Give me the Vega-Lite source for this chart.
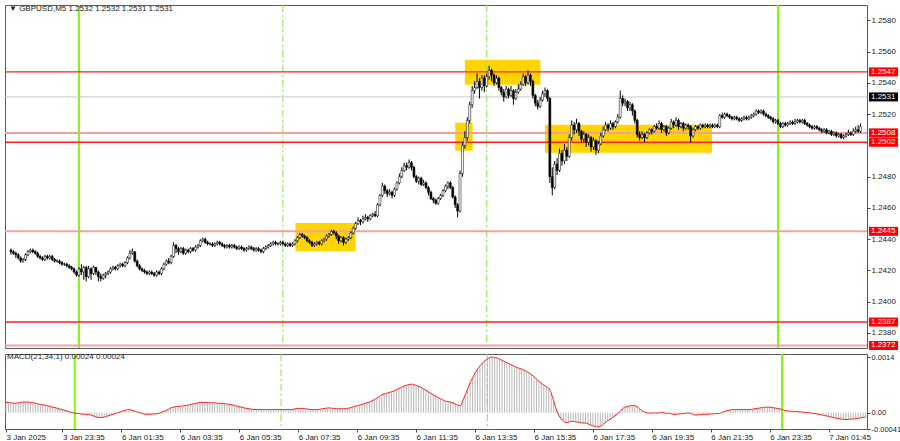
{
"$schema": "https://vega.github.io/schema/vega-lite/v6.json",
"padding": {"left": 3, "top": 3, "right": 0, "bottom": 0},
"background": "white",
"spacing": 1,
"config": {
"font": "Liberation Sans",
"view": {"stroke": "#5a5a5a", "strokeWidth": 1},
"axis": {"labelFont": "Liberation Sans", "labelFontSize": 8, "labelColor": "#222222", "domain": false, "grid": false, "tickColor": "#444444", "tickSize": 3, "labelPadding": 1, "title": null, "labelFlush": false, "labelOverlap": false, "labelBound": false}
},
"datasets": {
"bars": [
{"i":1,"o":1.2433,"h":1.2434,"l":1.2430,"c":1.2432,"m":0.00026},
{"i":2,"o":1.2432,"h":1.2433,"l":1.2430,"c":1.2431,"m":0.00026},
{"i":3,"o":1.2431,"h":1.2432,"l":1.2428,"c":1.2430,"m":0.00025},
{"i":4,"o":1.2430,"h":1.2431,"l":1.2427,"c":1.2428,"m":0.00024},
{"i":5,"o":1.2428,"h":1.2429,"l":1.2425,"c":1.2426,"m":0.00024},
{"i":6,"o":1.2426,"h":1.2428,"l":1.2425,"c":1.2427,"m":0.00025},
{"i":7,"o":1.2427,"h":1.2431,"l":1.2426,"c":1.2430,"m":0.00026},
{"i":8,"o":1.2430,"h":1.2433,"l":1.2429,"c":1.2432,"m":0.00027},
{"i":9,"o":1.2432,"h":1.2434,"l":1.2431,"c":1.2433,"m":0.00027},
{"i":10,"o":1.2433,"h":1.2434,"l":1.2431,"c":1.2432,"m":0.00027},
{"i":11,"o":1.2432,"h":1.2433,"l":1.2430,"c":1.2431,"m":0.00026},
{"i":12,"o":1.2431,"h":1.2432,"l":1.2428,"c":1.2429,"m":0.00025},
{"i":13,"o":1.2429,"h":1.2430,"l":1.2427,"c":1.2428,"m":0.00024},
{"i":14,"o":1.2428,"h":1.2429,"l":1.2426,"c":1.2427,"m":0.00022},
{"i":15,"o":1.2427,"h":1.2430,"l":1.2426,"c":1.2429,"m":0.00021},
{"i":16,"o":1.2429,"h":1.2430,"l":1.2427,"c":1.2428,"m":0.00020},
{"i":17,"o":1.2428,"h":1.2430,"l":1.2427,"c":1.2429,"m":0.00019},
{"i":18,"o":1.2429,"h":1.2430,"l":1.2426,"c":1.2427,"m":0.00017},
{"i":19,"o":1.2427,"h":1.2428,"l":1.2425,"c":1.2426,"m":0.00016},
{"i":20,"o":1.2426,"h":1.2427,"l":1.2425,"c":1.2426,"m":0.00014},
{"i":21,"o":1.2426,"h":1.2427,"l":1.2424,"c":1.2425,"m":0.00013},
{"i":22,"o":1.2425,"h":1.2426,"l":1.2423,"c":1.2424,"m":0.00011},
{"i":23,"o":1.2424,"h":1.2425,"l":1.2423,"c":1.2424,"m":0.00009},
{"i":24,"o":1.2424,"h":1.2425,"l":1.2422,"c":1.2423,"m":0.00008},
{"i":25,"o":1.2423,"h":1.2424,"l":1.2421,"c":1.2422,"m":0.00006},
{"i":26,"o":1.2422,"h":1.2423,"l":1.2420,"c":1.2421,"m":0.00004},
{"i":27,"o":1.2421,"h":1.2422,"l":1.2418,"c":1.2419,"m":0.00002},
{"i":28,"o":1.2419,"h":1.2420,"l":1.2416,"c":1.2417,"m":0.00000},
{"i":29,"o":1.2417,"h":1.2422,"l":1.2416,"c":1.2421,"m":-0.00001},
{"i":30,"o":1.2421,"h":1.2424,"l":1.2417,"c":1.2419,"m":-0.00002},
{"i":31,"o":1.2419,"h":1.2423,"l":1.2414,"c":1.2422,"m":-0.00002},
{"i":32,"o":1.2422,"h":1.2423,"l":1.2413,"c":1.2416,"m":-0.00004},
{"i":33,"o":1.2416,"h":1.2423,"l":1.2415,"c":1.2421,"m":-0.00004},
{"i":34,"o":1.2421,"h":1.2422,"l":1.2414,"c":1.2418,"m":-0.00005},
{"i":35,"o":1.2418,"h":1.2423,"l":1.2417,"c":1.2422,"m":-0.00005},
{"i":36,"o":1.2422,"h":1.2422,"l":1.2417,"c":1.2419,"m":-0.00007},
{"i":37,"o":1.2419,"h":1.2420,"l":1.2413,"c":1.2416,"m":-0.00009},
{"i":38,"o":1.2416,"h":1.2418,"l":1.2413,"c":1.2415,"m":-0.00011},
{"i":39,"o":1.2415,"h":1.2418,"l":1.2414,"c":1.2417,"m":-0.00012},
{"i":40,"o":1.2417,"h":1.2419,"l":1.2415,"c":1.2418,"m":-0.00012},
{"i":41,"o":1.2418,"h":1.2420,"l":1.2417,"c":1.2419,"m":-0.00011},
{"i":42,"o":1.2419,"h":1.2422,"l":1.2418,"c":1.2421,"m":-0.00009},
{"i":43,"o":1.2421,"h":1.2423,"l":1.2420,"c":1.2422,"m":-0.00007},
{"i":44,"o":1.2422,"h":1.2423,"l":1.2420,"c":1.2421,"m":-0.00005},
{"i":45,"o":1.2421,"h":1.2424,"l":1.2420,"c":1.2423,"m":-0.00003},
{"i":46,"o":1.2423,"h":1.2425,"l":1.2422,"c":1.2424,"m":-0.00001},
{"i":47,"o":1.2424,"h":1.2425,"l":1.2422,"c":1.2423,"m":0.00001},
{"i":48,"o":1.2423,"h":1.2426,"l":1.2422,"c":1.2425,"m":0.00003},
{"i":49,"o":1.2425,"h":1.2429,"l":1.2424,"c":1.2428,"m":0.00005},
{"i":50,"o":1.2428,"h":1.2433,"l":1.2427,"c":1.2431,"m":0.00007},
{"i":51,"o":1.2431,"h":1.2434,"l":1.2430,"c":1.2432,"m":0.00008},
{"i":52,"o":1.2432,"h":1.2432,"l":1.2425,"c":1.2426,"m":0.00007},
{"i":53,"o":1.2426,"h":1.2427,"l":1.2422,"c":1.2423,"m":0.00005},
{"i":54,"o":1.2423,"h":1.2424,"l":1.2420,"c":1.2421,"m":0.00003},
{"i":55,"o":1.2421,"h":1.2422,"l":1.2419,"c":1.2420,"m":0.00001},
{"i":56,"o":1.2420,"h":1.2421,"l":1.2418,"c":1.2419,"m":-0.00001},
{"i":57,"o":1.2419,"h":1.2420,"l":1.2417,"c":1.2418,"m":-0.00003},
{"i":58,"o":1.2418,"h":1.2420,"l":1.2417,"c":1.2419,"m":-0.00004},
{"i":59,"o":1.2419,"h":1.2420,"l":1.2417,"c":1.2418,"m":-0.00004},
{"i":60,"o":1.2418,"h":1.2419,"l":1.2416,"c":1.2417,"m":-0.00004},
{"i":61,"o":1.2417,"h":1.2420,"l":1.2416,"c":1.2419,"m":-0.00003},
{"i":62,"o":1.2419,"h":1.2420,"l":1.2417,"c":1.2418,"m":-0.00003},
{"i":63,"o":1.2418,"h":1.2422,"l":1.2417,"c":1.2421,"m":-0.00002},
{"i":64,"o":1.2421,"h":1.2425,"l":1.2420,"c":1.2424,"m":0.00000},
{"i":65,"o":1.2424,"h":1.2427,"l":1.2423,"c":1.2426,"m":0.00003},
{"i":66,"o":1.2426,"h":1.2428,"l":1.2424,"c":1.2425,"m":0.00005},
{"i":67,"o":1.2425,"h":1.2430,"l":1.2424,"c":1.2429,"m":0.00008},
{"i":68,"o":1.2429,"h":1.2438,"l":1.2428,"c":1.2436,"m":0.00012},
{"i":69,"o":1.2436,"h":1.2437,"l":1.2431,"c":1.2434,"m":0.00014},
{"i":70,"o":1.2434,"h":1.2435,"l":1.2430,"c":1.2432,"m":0.00015},
{"i":71,"o":1.2432,"h":1.2435,"l":1.2431,"c":1.2434,"m":0.00016},
{"i":72,"o":1.2434,"h":1.2435,"l":1.2430,"c":1.2431,"m":0.00016},
{"i":73,"o":1.2431,"h":1.2434,"l":1.2430,"c":1.2433,"m":0.00017},
{"i":74,"o":1.2433,"h":1.2434,"l":1.2431,"c":1.2432,"m":0.00018},
{"i":75,"o":1.2432,"h":1.2435,"l":1.2431,"c":1.2434,"m":0.00019},
{"i":76,"o":1.2434,"h":1.2435,"l":1.2432,"c":1.2433,"m":0.00020},
{"i":77,"o":1.2433,"h":1.2436,"l":1.2432,"c":1.2435,"m":0.00022},
{"i":78,"o":1.2435,"h":1.2437,"l":1.2434,"c":1.2436,"m":0.00023},
{"i":79,"o":1.2436,"h":1.2440,"l":1.2435,"c":1.2439,"m":0.00025},
{"i":80,"o":1.2439,"h":1.2441,"l":1.2438,"c":1.2440,"m":0.00026},
{"i":81,"o":1.2440,"h":1.2441,"l":1.2437,"c":1.2438,"m":0.00026},
{"i":82,"o":1.2438,"h":1.2439,"l":1.2436,"c":1.2437,"m":0.00026},
{"i":83,"o":1.2437,"h":1.2438,"l":1.2436,"c":1.2437,"m":0.00026},
{"i":84,"o":1.2437,"h":1.2438,"l":1.2435,"c":1.2436,"m":0.00025},
{"i":85,"o":1.2436,"h":1.2438,"l":1.2435,"c":1.2437,"m":0.00025},
{"i":86,"o":1.2437,"h":1.2439,"l":1.2436,"c":1.2438,"m":0.00025},
{"i":87,"o":1.2438,"h":1.2439,"l":1.2436,"c":1.2437,"m":0.00024},
{"i":88,"o":1.2437,"h":1.2438,"l":1.2435,"c":1.2436,"m":0.00024},
{"i":89,"o":1.2436,"h":1.2437,"l":1.2434,"c":1.2435,"m":0.00023},
{"i":90,"o":1.2435,"h":1.2437,"l":1.2434,"c":1.2436,"m":0.00023},
{"i":91,"o":1.2436,"h":1.2437,"l":1.2434,"c":1.2435,"m":0.00022},
{"i":92,"o":1.2435,"h":1.2437,"l":1.2434,"c":1.2436,"m":0.00021},
{"i":93,"o":1.2436,"h":1.2437,"l":1.2434,"c":1.2435,"m":0.00020},
{"i":94,"o":1.2435,"h":1.2436,"l":1.2433,"c":1.2434,"m":0.00018},
{"i":95,"o":1.2434,"h":1.2436,"l":1.2433,"c":1.2435,"m":0.00017},
{"i":96,"o":1.2435,"h":1.2436,"l":1.2433,"c":1.2434,"m":0.00015},
{"i":97,"o":1.2434,"h":1.2435,"l":1.2432,"c":1.2433,"m":0.00014},
{"i":98,"o":1.2433,"h":1.2435,"l":1.2432,"c":1.2434,"m":0.00012},
{"i":99,"o":1.2434,"h":1.2436,"l":1.2433,"c":1.2435,"m":0.00011},
{"i":100,"o":1.2435,"h":1.2436,"l":1.2433,"c":1.2434,"m":0.00010},
{"i":101,"o":1.2434,"h":1.2435,"l":1.2432,"c":1.2433,"m":0.00009},
{"i":102,"o":1.2433,"h":1.2435,"l":1.2432,"c":1.2434,"m":0.00008},
{"i":103,"o":1.2434,"h":1.2435,"l":1.2432,"c":1.2433,"m":0.00008},
{"i":104,"o":1.2433,"h":1.2434,"l":1.2431,"c":1.2432,"m":0.00008},
{"i":105,"o":1.2432,"h":1.2435,"l":1.2431,"c":1.2434,"m":0.00008},
{"i":106,"o":1.2434,"h":1.2436,"l":1.2433,"c":1.2435,"m":0.00008},
{"i":107,"o":1.2435,"h":1.2437,"l":1.2434,"c":1.2436,"m":0.00008},
{"i":108,"o":1.2436,"h":1.2438,"l":1.2435,"c":1.2437,"m":0.00008},
{"i":109,"o":1.2437,"h":1.2439,"l":1.2436,"c":1.2438,"m":0.00008},
{"i":110,"o":1.2438,"h":1.2439,"l":1.2436,"c":1.2437,"m":0.00008},
{"i":111,"o":1.2437,"h":1.2438,"l":1.2436,"c":1.2437,"m":0.00008},
{"i":112,"o":1.2437,"h":1.2439,"l":1.2436,"c":1.2438,"m":0.00008},
{"i":113,"o":1.2438,"h":1.2439,"l":1.2436,"c":1.2437,"m":0.00008},
{"i":114,"o":1.2437,"h":1.2438,"l":1.2435,"c":1.2436,"m":0.00008},
{"i":115,"o":1.2436,"h":1.2438,"l":1.2435,"c":1.2437,"m":0.00008},
{"i":116,"o":1.2437,"h":1.2438,"l":1.2435,"c":1.2436,"m":0.00008},
{"i":117,"o":1.2436,"h":1.2438,"l":1.2435,"c":1.2437,"m":0.00008},
{"i":118,"o":1.2437,"h":1.2440,"l":1.2436,"c":1.2439,"m":0.00009},
{"i":119,"o":1.2439,"h":1.2442,"l":1.2438,"c":1.2441,"m":0.00010},
{"i":120,"o":1.2441,"h":1.2444,"l":1.2440,"c":1.2443,"m":0.00011},
{"i":121,"o":1.2443,"h":1.2444,"l":1.2441,"c":1.2442,"m":0.00011},
{"i":122,"o":1.2442,"h":1.2443,"l":1.2440,"c":1.2441,"m":0.00011},
{"i":123,"o":1.2441,"h":1.2442,"l":1.2438,"c":1.2439,"m":0.00010},
{"i":124,"o":1.2439,"h":1.2440,"l":1.2437,"c":1.2438,"m":0.00009},
{"i":125,"o":1.2438,"h":1.2439,"l":1.2435,"c":1.2436,"m":0.00008},
{"i":126,"o":1.2436,"h":1.2438,"l":1.2435,"c":1.2437,"m":0.00008},
{"i":127,"o":1.2437,"h":1.2439,"l":1.2436,"c":1.2438,"m":0.00008},
{"i":128,"o":1.2438,"h":1.2439,"l":1.2436,"c":1.2437,"m":0.00008},
{"i":129,"o":1.2437,"h":1.2440,"l":1.2436,"c":1.2439,"m":0.00009},
{"i":130,"o":1.2439,"h":1.2441,"l":1.2438,"c":1.2440,"m":0.00010},
{"i":131,"o":1.2440,"h":1.2443,"l":1.2439,"c":1.2442,"m":0.00011},
{"i":132,"o":1.2442,"h":1.2444,"l":1.2441,"c":1.2443,"m":0.00012},
{"i":133,"o":1.2443,"h":1.2446,"l":1.2442,"c":1.2445,"m":0.00012},
{"i":134,"o":1.2445,"h":1.2446,"l":1.2443,"c":1.2444,"m":0.00011},
{"i":135,"o":1.2444,"h":1.2445,"l":1.2440,"c":1.2442,"m":0.00011},
{"i":136,"o":1.2442,"h":1.2443,"l":1.2437,"c":1.2439,"m":0.00010},
{"i":137,"o":1.2439,"h":1.2442,"l":1.2438,"c":1.2441,"m":0.00010},
{"i":138,"o":1.2441,"h":1.2442,"l":1.2436,"c":1.2438,"m":0.00010},
{"i":139,"o":1.2438,"h":1.2441,"l":1.2437,"c":1.2440,"m":0.00010},
{"i":140,"o":1.2440,"h":1.2442,"l":1.2439,"c":1.2441,"m":0.00011},
{"i":141,"o":1.2441,"h":1.2445,"l":1.2440,"c":1.2444,"m":0.00012},
{"i":142,"o":1.2444,"h":1.2448,"l":1.2443,"c":1.2447,"m":0.00014},
{"i":143,"o":1.2447,"h":1.2451,"l":1.2446,"c":1.2450,"m":0.00016},
{"i":144,"o":1.2450,"h":1.2454,"l":1.2449,"c":1.2452,"m":0.00018},
{"i":145,"o":1.2452,"h":1.2453,"l":1.2449,"c":1.2451,"m":0.00019},
{"i":146,"o":1.2451,"h":1.2455,"l":1.2450,"c":1.2453,"m":0.00021},
{"i":147,"o":1.2453,"h":1.2456,"l":1.2452,"c":1.2454,"m":0.00023},
{"i":148,"o":1.2454,"h":1.2455,"l":1.2451,"c":1.2453,"m":0.00025},
{"i":149,"o":1.2453,"h":1.2456,"l":1.2452,"c":1.2455,"m":0.00027},
{"i":150,"o":1.2455,"h":1.2457,"l":1.2454,"c":1.2456,"m":0.00030},
{"i":151,"o":1.2456,"h":1.2458,"l":1.2454,"c":1.2455,"m":0.00033},
{"i":152,"o":1.2455,"h":1.2463,"l":1.2454,"c":1.2462,"m":0.00037},
{"i":153,"o":1.2462,"h":1.2469,"l":1.2461,"c":1.2468,"m":0.00041},
{"i":154,"o":1.2468,"h":1.2476,"l":1.2467,"c":1.2474,"m":0.00045},
{"i":155,"o":1.2474,"h":1.2475,"l":1.2469,"c":1.2471,"m":0.00047},
{"i":156,"o":1.2471,"h":1.2472,"l":1.2467,"c":1.2469,"m":0.00049},
{"i":157,"o":1.2469,"h":1.2472,"l":1.2468,"c":1.2470,"m":0.00051},
{"i":158,"o":1.2470,"h":1.2471,"l":1.2466,"c":1.2468,"m":0.00053},
{"i":159,"o":1.2468,"h":1.2473,"l":1.2467,"c":1.2472,"m":0.00055},
{"i":160,"o":1.2472,"h":1.2477,"l":1.2471,"c":1.2476,"m":0.00058},
{"i":161,"o":1.2476,"h":1.2482,"l":1.2475,"c":1.2480,"m":0.00061},
{"i":162,"o":1.2480,"h":1.2486,"l":1.2479,"c":1.2484,"m":0.00064},
{"i":163,"o":1.2484,"h":1.2489,"l":1.2483,"c":1.2487,"m":0.00067},
{"i":164,"o":1.2487,"h":1.2489,"l":1.2484,"c":1.2486,"m":0.00069},
{"i":165,"o":1.2486,"h":1.2491,"l":1.2485,"c":1.2489,"m":0.00071},
{"i":166,"o":1.2489,"h":1.2490,"l":1.2484,"c":1.2486,"m":0.00072},
{"i":167,"o":1.2486,"h":1.2487,"l":1.2479,"c":1.2480,"m":0.00071},
{"i":168,"o":1.2480,"h":1.2481,"l":1.2476,"c":1.2477,"m":0.00069},
{"i":169,"o":1.2477,"h":1.2480,"l":1.2475,"c":1.2479,"m":0.00067},
{"i":170,"o":1.2479,"h":1.2480,"l":1.2474,"c":1.2475,"m":0.00064},
{"i":171,"o":1.2475,"h":1.2478,"l":1.2474,"c":1.2476,"m":0.00060},
{"i":172,"o":1.2476,"h":1.2477,"l":1.2472,"c":1.2473,"m":0.00057},
{"i":173,"o":1.2473,"h":1.2474,"l":1.2468,"c":1.2470,"m":0.00053},
{"i":174,"o":1.2470,"h":1.2471,"l":1.2465,"c":1.2466,"m":0.00049},
{"i":175,"o":1.2466,"h":1.2467,"l":1.2463,"c":1.2465,"m":0.00045},
{"i":176,"o":1.2465,"h":1.2466,"l":1.2462,"c":1.2463,"m":0.00042},
{"i":177,"o":1.2463,"h":1.2467,"l":1.2462,"c":1.2466,"m":0.00038},
{"i":178,"o":1.2466,"h":1.2469,"l":1.2465,"c":1.2468,"m":0.00035},
{"i":179,"o":1.2468,"h":1.2472,"l":1.2467,"c":1.2471,"m":0.00032},
{"i":180,"o":1.2471,"h":1.2475,"l":1.2470,"c":1.2474,"m":0.00029},
{"i":181,"o":1.2474,"h":1.2477,"l":1.2472,"c":1.2476,"m":0.00028},
{"i":182,"o":1.2476,"h":1.2477,"l":1.2472,"c":1.2473,"m":0.00027},
{"i":183,"o":1.2473,"h":1.2474,"l":1.2466,"c":1.2467,"m":0.00025},
{"i":184,"o":1.2467,"h":1.2468,"l":1.2460,"c":1.2462,"m":0.00022},
{"i":185,"o":1.2462,"h":1.2463,"l":1.2454,"c":1.2458,"m":0.00019},
{"i":186,"o":1.2458,"h":1.2484,"l":1.2457,"c":1.2482,"m":0.00018},
{"i":187,"o":1.2482,"h":1.2502,"l":1.2480,"c":1.2500,"m":0.00030},
{"i":188,"o":1.2500,"h":1.2509,"l":1.2498,"c":1.2505,"m":0.00045},
{"i":189,"o":1.2505,"h":1.2518,"l":1.2503,"c":1.2516,"m":0.00060},
{"i":190,"o":1.2516,"h":1.2528,"l":1.2514,"c":1.2526,"m":0.00075},
{"i":191,"o":1.2526,"h":1.2538,"l":1.2524,"c":1.2535,"m":0.00088},
{"i":192,"o":1.2535,"h":1.2541,"l":1.2533,"c":1.2537,"m":0.00100},
{"i":193,"o":1.2537,"h":1.2546,"l":1.2536,"c":1.2541,"m":0.00110},
{"i":194,"o":1.2541,"h":1.2543,"l":1.2530,"c":1.2537,"m":0.00118},
{"i":195,"o":1.2537,"h":1.2545,"l":1.2535,"c":1.2543,"m":0.00125},
{"i":196,"o":1.2543,"h":1.2545,"l":1.2534,"c":1.2538,"m":0.00131},
{"i":197,"o":1.2538,"h":1.2546,"l":1.2537,"c":1.2544,"m":0.00135},
{"i":198,"o":1.2544,"h":1.2551,"l":1.2542,"c":1.2548,"m":0.00139},
{"i":199,"o":1.2548,"h":1.2549,"l":1.2541,"c":1.2545,"m":0.00140},
{"i":200,"o":1.2545,"h":1.2546,"l":1.2538,"c":1.2540,"m":0.00139},
{"i":201,"o":1.2540,"h":1.2545,"l":1.2539,"c":1.2543,"m":0.00138},
{"i":202,"o":1.2543,"h":1.2544,"l":1.2535,"c":1.2537,"m":0.00135},
{"i":203,"o":1.2537,"h":1.2538,"l":1.2532,"c":1.2534,"m":0.00132},
{"i":204,"o":1.2534,"h":1.2536,"l":1.2528,"c":1.2531,"m":0.00129},
{"i":205,"o":1.2531,"h":1.2538,"l":1.2530,"c":1.2536,"m":0.00126},
{"i":206,"o":1.2536,"h":1.2537,"l":1.2530,"c":1.2532,"m":0.00123},
{"i":207,"o":1.2532,"h":1.2538,"l":1.2531,"c":1.2535,"m":0.00120},
{"i":208,"o":1.2535,"h":1.2536,"l":1.2526,"c":1.2530,"m":0.00117},
{"i":209,"o":1.2530,"h":1.2536,"l":1.2529,"c":1.2534,"m":0.00114},
{"i":210,"o":1.2534,"h":1.2539,"l":1.2533,"c":1.2536,"m":0.00112},
{"i":211,"o":1.2536,"h":1.2541,"l":1.2535,"c":1.2539,"m":0.00110},
{"i":212,"o":1.2539,"h":1.2546,"l":1.2538,"c":1.2544,"m":0.00107},
{"i":213,"o":1.2544,"h":1.2545,"l":1.2538,"c":1.2540,"m":0.00104},
{"i":214,"o":1.2540,"h":1.2548,"l":1.2539,"c":1.2545,"m":0.00100},
{"i":215,"o":1.2545,"h":1.2546,"l":1.2538,"c":1.2541,"m":0.00096},
{"i":216,"o":1.2541,"h":1.2542,"l":1.2530,"c":1.2532,"m":0.00091},
{"i":217,"o":1.2532,"h":1.2533,"l":1.2525,"c":1.2527,"m":0.00085},
{"i":218,"o":1.2527,"h":1.2529,"l":1.2523,"c":1.2525,"m":0.00079},
{"i":219,"o":1.2525,"h":1.2531,"l":1.2524,"c":1.2529,"m":0.00074},
{"i":220,"o":1.2529,"h":1.2535,"l":1.2528,"c":1.2533,"m":0.00070},
{"i":221,"o":1.2533,"h":1.2537,"l":1.2531,"c":1.2535,"m":0.00066},
{"i":222,"o":1.2535,"h":1.2536,"l":1.2528,"c":1.2530,"m":0.00062},
{"i":223,"o":1.2530,"h":1.2531,"l":1.2476,"c":1.2480,"m":0.00050},
{"i":224,"o":1.2480,"h":1.2486,"l":1.2468,"c":1.2473,"m":0.00030},
{"i":225,"o":1.2473,"h":1.2490,"l":1.2472,"c":1.2488,"m":0.00010},
{"i":226,"o":1.2488,"h":1.2492,"l":1.2481,"c":1.2484,"m":-0.00005},
{"i":227,"o":1.2484,"h":1.2498,"l":1.2483,"c":1.2495,"m":-0.00015},
{"i":228,"o":1.2495,"h":1.2497,"l":1.2487,"c":1.2490,"m":-0.00021},
{"i":229,"o":1.2490,"h":1.2501,"l":1.2488,"c":1.2497,"m":-0.00025},
{"i":230,"o":1.2497,"h":1.2499,"l":1.2490,"c":1.2493,"m":-0.00024},
{"i":231,"o":1.2493,"h":1.2507,"l":1.2492,"c":1.2505,"m":-0.00022},
{"i":232,"o":1.2505,"h":1.2516,"l":1.2503,"c":1.2513,"m":-0.00022},
{"i":233,"o":1.2513,"h":1.2515,"l":1.2507,"c":1.2510,"m":-0.00023},
{"i":234,"o":1.2510,"h":1.2517,"l":1.2508,"c":1.2514,"m":-0.00024},
{"i":235,"o":1.2514,"h":1.2515,"l":1.2506,"c":1.2509,"m":-0.00025},
{"i":236,"o":1.2509,"h":1.2510,"l":1.2502,"c":1.2504,"m":-0.00026},
{"i":237,"o":1.2504,"h":1.2509,"l":1.2502,"c":1.2507,"m":-0.00026},
{"i":238,"o":1.2507,"h":1.2508,"l":1.2499,"c":1.2502,"m":-0.00028},
{"i":239,"o":1.2502,"h":1.2507,"l":1.2500,"c":1.2505,"m":-0.00031},
{"i":240,"o":1.2505,"h":1.2506,"l":1.2496,"c":1.2499,"m":-0.00033},
{"i":241,"o":1.2499,"h":1.2505,"l":1.2497,"c":1.2503,"m":-0.00035},
{"i":242,"o":1.2503,"h":1.2504,"l":1.2494,"c":1.2497,"m":-0.00036},
{"i":243,"o":1.2497,"h":1.2503,"l":1.2495,"c":1.2501,"m":-0.00034},
{"i":244,"o":1.2501,"h":1.2508,"l":1.2500,"c":1.2506,"m":-0.00030},
{"i":245,"o":1.2506,"h":1.2512,"l":1.2505,"c":1.2510,"m":-0.00025},
{"i":246,"o":1.2510,"h":1.2515,"l":1.2509,"c":1.2513,"m":-0.00020},
{"i":247,"o":1.2513,"h":1.2514,"l":1.2509,"c":1.2511,"m":-0.00016},
{"i":248,"o":1.2511,"h":1.2516,"l":1.2510,"c":1.2514,"m":-0.00012},
{"i":249,"o":1.2514,"h":1.2515,"l":1.2510,"c":1.2512,"m":-0.00008},
{"i":250,"o":1.2512,"h":1.2516,"l":1.2511,"c":1.2515,"m":-0.00003},
{"i":251,"o":1.2515,"h":1.2520,"l":1.2514,"c":1.2518,"m":0.00003},
{"i":252,"o":1.2518,"h":1.2535,"l":1.2517,"c":1.2530,"m":0.00010},
{"i":253,"o":1.2530,"h":1.2532,"l":1.2525,"c":1.2527,"m":0.00014},
{"i":254,"o":1.2527,"h":1.2530,"l":1.2525,"c":1.2528,"m":0.00016},
{"i":255,"o":1.2528,"h":1.2529,"l":1.2522,"c":1.2524,"m":0.00017},
{"i":256,"o":1.2524,"h":1.2528,"l":1.2522,"c":1.2526,"m":0.00018},
{"i":257,"o":1.2526,"h":1.2527,"l":1.2519,"c":1.2522,"m":0.00018},
{"i":258,"o":1.2522,"h":1.2523,"l":1.2514,"c":1.2516,"m":0.00015},
{"i":259,"o":1.2516,"h":1.2517,"l":1.2505,"c":1.2507,"m":0.00010},
{"i":260,"o":1.2507,"h":1.2509,"l":1.2503,"c":1.2505,"m":0.00005},
{"i":261,"o":1.2505,"h":1.2509,"l":1.2504,"c":1.2507,"m":0.00002},
{"i":262,"o":1.2507,"h":1.2508,"l":1.2502,"c":1.2505,"m":0.00000},
{"i":263,"o":1.2505,"h":1.2509,"l":1.2504,"c":1.2508,"m":-0.00001},
{"i":264,"o":1.2508,"h":1.2511,"l":1.2507,"c":1.2510,"m":-0.00001},
{"i":265,"o":1.2510,"h":1.2511,"l":1.2507,"c":1.2509,"m":0.00000},
{"i":266,"o":1.2509,"h":1.2513,"l":1.2508,"c":1.2512,"m":-0.00001},
{"i":267,"o":1.2512,"h":1.2514,"l":1.2510,"c":1.2511,"m":0.00000},
{"i":268,"o":1.2511,"h":1.2516,"l":1.2510,"c":1.2514,"m":0.00001},
{"i":269,"o":1.2514,"h":1.2515,"l":1.2508,"c":1.2510,"m":0.00000},
{"i":270,"o":1.2510,"h":1.2513,"l":1.2509,"c":1.2512,"m":-0.00002},
{"i":271,"o":1.2512,"h":1.2513,"l":1.2506,"c":1.2508,"m":-0.00001},
{"i":272,"o":1.2508,"h":1.2512,"l":1.2507,"c":1.2511,"m":-0.00003},
{"i":273,"o":1.2511,"h":1.2517,"l":1.2510,"c":1.2515,"m":-0.00004},
{"i":274,"o":1.2515,"h":1.2516,"l":1.2511,"c":1.2513,"m":-0.00004},
{"i":275,"o":1.2513,"h":1.2518,"l":1.2512,"c":1.2516,"m":-0.00003},
{"i":276,"o":1.2516,"h":1.2517,"l":1.2510,"c":1.2512,"m":-0.00002},
{"i":277,"o":1.2512,"h":1.2515,"l":1.2511,"c":1.2514,"m":-0.00002},
{"i":278,"o":1.2514,"h":1.2515,"l":1.2509,"c":1.2511,"m":-0.00001},
{"i":279,"o":1.2511,"h":1.2514,"l":1.2510,"c":1.2513,"m":-0.00001},
{"i":280,"o":1.2513,"h":1.2514,"l":1.2510,"c":1.2512,"m":-0.00002},
{"i":281,"o":1.2512,"h":1.2513,"l":1.2502,"c":1.2506,"m":-0.00005},
{"i":282,"o":1.2506,"h":1.2511,"l":1.2505,"c":1.2510,"m":-0.00006},
{"i":283,"o":1.2510,"h":1.2513,"l":1.2509,"c":1.2512,"m":-0.00005},
{"i":284,"o":1.2512,"h":1.2513,"l":1.2510,"c":1.2511,"m":-0.00005},
{"i":285,"o":1.2511,"h":1.2514,"l":1.2510,"c":1.2513,"m":-0.00004},
{"i":286,"o":1.2513,"h":1.2514,"l":1.2511,"c":1.2512,"m":-0.00004},
{"i":287,"o":1.2512,"h":1.2514,"l":1.2511,"c":1.2513,"m":-0.00004},
{"i":288,"o":1.2513,"h":1.2514,"l":1.2511,"c":1.2512,"m":-0.00003},
{"i":289,"o":1.2512,"h":1.2514,"l":1.2511,"c":1.2513,"m":-0.00003},
{"i":290,"o":1.2513,"h":1.2514,"l":1.2511,"c":1.2512,"m":-0.00002},
{"i":291,"o":1.2512,"h":1.2514,"l":1.2511,"c":1.2513,"m":-0.00002},
{"i":292,"o":1.2513,"h":1.2514,"l":1.2511,"c":1.2512,"m":-0.00001},
{"i":293,"o":1.2512,"h":1.2520,"l":1.2511,"c":1.2519,"m":0.00002},
{"i":294,"o":1.2519,"h":1.2521,"l":1.2517,"c":1.2518,"m":0.00004},
{"i":295,"o":1.2518,"h":1.2521,"l":1.2517,"c":1.2520,"m":0.00006},
{"i":296,"o":1.2520,"h":1.2521,"l":1.2518,"c":1.2519,"m":0.00007},
{"i":297,"o":1.2519,"h":1.2520,"l":1.2517,"c":1.2518,"m":0.00008},
{"i":298,"o":1.2518,"h":1.2519,"l":1.2516,"c":1.2517,"m":0.00008},
{"i":299,"o":1.2517,"h":1.2519,"l":1.2516,"c":1.2518,"m":0.00008},
{"i":300,"o":1.2518,"h":1.2519,"l":1.2516,"c":1.2517,"m":0.00008},
{"i":301,"o":1.2517,"h":1.2518,"l":1.2515,"c":1.2516,"m":0.00008},
{"i":302,"o":1.2516,"h":1.2518,"l":1.2515,"c":1.2517,"m":0.00008},
{"i":303,"o":1.2517,"h":1.2519,"l":1.2516,"c":1.2518,"m":0.00008},
{"i":304,"o":1.2518,"h":1.2519,"l":1.2516,"c":1.2517,"m":0.00008},
{"i":305,"o":1.2517,"h":1.2519,"l":1.2516,"c":1.2518,"m":0.00009},
{"i":306,"o":1.2518,"h":1.2520,"l":1.2517,"c":1.2519,"m":0.00010},
{"i":307,"o":1.2519,"h":1.2521,"l":1.2518,"c":1.2520,"m":0.00011},
{"i":308,"o":1.2520,"h":1.2523,"l":1.2519,"c":1.2522,"m":0.00012},
{"i":309,"o":1.2522,"h":1.2523,"l":1.2520,"c":1.2521,"m":0.00013},
{"i":310,"o":1.2521,"h":1.2523,"l":1.2520,"c":1.2522,"m":0.00014},
{"i":311,"o":1.2522,"h":1.2523,"l":1.2519,"c":1.2520,"m":0.00014},
{"i":312,"o":1.2520,"h":1.2521,"l":1.2518,"c":1.2519,"m":0.00014},
{"i":313,"o":1.2519,"h":1.2520,"l":1.2517,"c":1.2518,"m":0.00013},
{"i":314,"o":1.2518,"h":1.2519,"l":1.2516,"c":1.2517,"m":0.00012},
{"i":315,"o":1.2517,"h":1.2518,"l":1.2514,"c":1.2515,"m":0.00011},
{"i":316,"o":1.2515,"h":1.2517,"l":1.2514,"c":1.2516,"m":0.00010},
{"i":317,"o":1.2516,"h":1.2517,"l":1.2513,"c":1.2514,"m":0.00008},
{"i":318,"o":1.2514,"h":1.2515,"l":1.2511,"c":1.2512,"m":0.00006},
{"i":319,"o":1.2512,"h":1.2515,"l":1.2511,"c":1.2514,"m":0.00005},
{"i":320,"o":1.2514,"h":1.2515,"l":1.2512,"c":1.2513,"m":0.00004},
{"i":321,"o":1.2513,"h":1.2515,"l":1.2512,"c":1.2514,"m":0.00004},
{"i":322,"o":1.2514,"h":1.2516,"l":1.2513,"c":1.2515,"m":0.00003},
{"i":323,"o":1.2515,"h":1.2516,"l":1.2513,"c":1.2514,"m":0.00003},
{"i":324,"o":1.2514,"h":1.2517,"l":1.2513,"c":1.2515,"m":0.00002},
{"i":325,"o":1.2515,"h":1.2517,"l":1.2514,"c":1.2516,"m":0.00002},
{"i":326,"o":1.2516,"h":1.2517,"l":1.2514,"c":1.2515,"m":0.00001},
{"i":327,"o":1.2515,"h":1.2517,"l":1.2514,"c":1.2516,"m":0.00001},
{"i":328,"o":1.2516,"h":1.2517,"l":1.2513,"c":1.2514,"m":0.00000},
{"i":329,"o":1.2514,"h":1.2515,"l":1.2512,"c":1.2513,"m":-0.00001},
{"i":330,"o":1.2513,"h":1.2514,"l":1.2511,"c":1.2512,"m":-0.00002},
{"i":331,"o":1.2512,"h":1.2513,"l":1.2510,"c":1.2511,"m":-0.00003},
{"i":332,"o":1.2511,"h":1.2513,"l":1.2510,"c":1.2512,"m":-0.00004},
{"i":333,"o":1.2512,"h":1.2513,"l":1.2510,"c":1.2511,"m":-0.00005},
{"i":334,"o":1.2511,"h":1.2512,"l":1.2509,"c":1.2510,"m":-0.00007},
{"i":335,"o":1.2510,"h":1.2511,"l":1.2508,"c":1.2509,"m":-0.00008},
{"i":336,"o":1.2509,"h":1.2511,"l":1.2508,"c":1.2510,"m":-0.00009},
{"i":337,"o":1.2510,"h":1.2511,"l":1.2507,"c":1.2508,"m":-0.00011},
{"i":338,"o":1.2508,"h":1.2510,"l":1.2507,"c":1.2509,"m":-0.00012},
{"i":339,"o":1.2509,"h":1.2510,"l":1.2506,"c":1.2507,"m":-0.00014},
{"i":340,"o":1.2507,"h":1.2509,"l":1.2506,"c":1.2508,"m":-0.00015},
{"i":341,"o":1.2508,"h":1.2509,"l":1.2505,"c":1.2506,"m":-0.00016},
{"i":342,"o":1.2506,"h":1.2508,"l":1.2505,"c":1.2507,"m":-0.00017},
{"i":343,"o":1.2507,"h":1.2508,"l":1.2504,"c":1.2505,"m":-0.00017},
{"i":344,"o":1.2505,"h":1.2507,"l":1.2504,"c":1.2506,"m":-0.00017},
{"i":345,"o":1.2506,"h":1.2508,"l":1.2505,"c":1.2507,"m":-0.00016},
{"i":346,"o":1.2507,"h":1.2510,"l":1.2506,"c":1.2508,"m":-0.00016},
{"i":347,"o":1.2508,"h":1.2509,"l":1.2506,"c":1.2507,"m":-0.00015},
{"i":348,"o":1.2507,"h":1.2511,"l":1.2506,"c":1.2509,"m":-0.00014},
{"i":349,"o":1.2509,"h":1.2512,"l":1.2508,"c":1.2510,"m":-0.00013},
{"i":350,"o":1.2510,"h":1.2513,"l":1.2508,"c":1.2509,"m":-0.00012},
{"i":351,"o":1.2509,"h":1.2514,"l":1.2508,"c":1.2512,"m":-0.00011}
],
"levels": [
{"p":1.2547,"kind":"strong"},
{"p":1.2502,"kind":"strong"},
{"p":1.2387,"kind":"strong"},
{"p":1.2508,"kind":"weak"},
{"p":1.2445,"kind":"weak"},
{"p":1.2372,"kind":"weak"},
{"p":1.2531,"kind":"bid"}
],
"zones": [
{"x1":118.2,"x2":143.0,"p1":1.24325,"p2":1.24504},
{"x1":184.0,"x2":191.2,"p1":1.24966,"p2":1.25145},
{"x1":188.0,"x2":219.1,"p1":1.25388,"p2":1.25548},
{"x1":221.0,"x2":289.8,"p1":1.24953,"p2":1.25132}
],
"vlines": [
{"i":29,"kind":"day"},
{"i":317,"kind":"day"},
{"i":113,"kind":"session"},
{"i":197,"kind":"session"}
]
},
"vconcat": [
{
"width": 862,
"height": 343,
"title": {"text": "▼ GBPUSD,M5  1.2532 1.2532 1.2531 1.2531", "anchor": "start", "frame": "group", "orient": "top", "baseline": "top", "offset": -9, "dx": 4, "fontSize": 8, "fontWeight": "normal", "color": "#222222", "font": "Liberation Sans"},
"layer": [
{
"data": {"name": "zones"},
"mark": {"type": "rect", "color": "#FFD400"},
"encoding": {
"x": {"field": "x1", "type": "quantitative", "scale": {"domain": [0.6, 351.6], "nice": false, "zero": false}, "axis": null},
"x2": {"field": "x2"},
"y": {"field": "p1", "type": "quantitative", "scale": {"domain": [1.23704, 1.25898], "nice": false, "zero": false},
"axis": {"orient": "right", "values": [1.2580, 1.2560, 1.2540, 1.2520, 1.2480, 1.2460, 1.2440, 1.2420, 1.2400, 1.2380], "tickCount": 40, "format": ".4f", "labelOverlap": false, "labelBound": false}},
"y2": {"field": "p2"}
}
},
{
"data": {"name": "vlines"},
"transform": [{"filter": "datum.kind == 'day'"}],
"mark": {"type": "rule", "color": "#7CFC00", "strokeWidth": 2},
"encoding": {
"x": {"field": "i", "type": "quantitative", "scale": {"domain": [0.6, 351.6], "nice": false, "zero": false}, "axis": null}
}
},
{
"data": {"name": "vlines"},
"transform": [{"filter": "datum.kind == 'session'"}],
"mark": {"type": "rule", "color": "#86e34a", "strokeWidth": 1, "strokeDash": [7, 3, 2, 3]},
"encoding": {
"x": {"field": "i", "type": "quantitative", "scale": {"domain": [0.6, 351.6], "nice": false, "zero": false}, "axis": null}
}
},
{
"data": {"name": "levels"},
"transform": [{"filter": "datum.kind == 'bid'"}],
"mark": {"type": "rule", "color": "#c8c8c8", "strokeWidth": 1},
"encoding": {
"y": {"field": "p", "type": "quantitative", "scale": {"domain": [1.23704, 1.25898], "nice": false, "zero": false}}
}
},
{
"data": {"name": "levels"},
"transform": [{"filter": "datum.kind == 'weak'"}],
"mark": {"type": "rule", "color": "#f4a0a0", "strokeWidth": 2},
"encoding": {
"y": {"field": "p", "type": "quantitative", "scale": {"domain": [1.23704, 1.25898], "nice": false, "zero": false}}
}
},
{
"data": {"name": "levels"},
"transform": [{"filter": "datum.kind == 'strong'"}],
"mark": {"type": "rule", "color": "#ff1f1f", "strokeWidth": 1.4},
"encoding": {
"y": {"field": "p", "type": "quantitative", "scale": {"domain": [1.23704, 1.25898], "nice": false, "zero": false}}
}
},
{
"data": {"name": "bars"},
"mark": {"type": "rule", "color": "#000000", "strokeWidth": 1},
"encoding": {
"x": {"field": "i", "type": "quantitative", "scale": {"domain": [0.6, 351.6], "nice": false, "zero": false}, "axis": null},
"y": {"field": "l", "type": "quantitative", "scale": {"domain": [1.23704, 1.25898], "nice": false, "zero": false}},
"y2": {"field": "h"}
}
},
{
"data": {"name": "bars"},
"mark": {"type": "bar", "width": 2, "stroke": "#000000", "strokeWidth": 0.5},
"encoding": {
"x": {"field": "i", "type": "quantitative", "scale": {"domain": [0.6, 351.6], "nice": false, "zero": false}, "axis": null},
"y": {"field": "o", "type": "quantitative", "scale": {"domain": [1.23704, 1.25898], "nice": false, "zero": false}},
"y2": {"field": "c"},
"fill": {"condition": {"test": "datum.c >= datum.o", "value": "#ffffff"}, "value": "#000000"}
}
},
{
"data": {"name": "levels"},
"mark": {"type": "point", "shape": "M0.44,-1H6.89V1H0.44Z", "size": 81, "filled": true, "opacity": 1, "strokeWidth": 0},
"encoding": {
"x": {"value": "width"},
"y": {"field": "p", "type": "quantitative", "scale": {"domain": [1.23704, 1.25898], "nice": false, "zero": false}},
"color": {"condition": {"test": "datum.kind == 'bid'", "value": "#000000"}, "value": "#ff0000"}
}
},
{
"data": {"name": "levels"},
"mark": {"type": "text", "align": "left", "baseline": "middle", "dx": 4, "fontSize": 8, "color": "#ffffff", "font": "Liberation Sans"},
"encoding": {
"x": {"value": "width"},
"y": {"field": "p", "type": "quantitative", "scale": {"domain": [1.23704, 1.25898], "nice": false, "zero": false}},
"text": {"field": "p", "type": "quantitative", "format": ".4f"}
}
}
]
},
{
"width": 862,
"height": 75,
"title": {"text": "MACD(21,34,1) 0.00024 0.00024", "anchor": "start", "frame": "group", "orient": "top", "baseline": "top", "offset": -8, "dx": 2, "fontSize": 8, "fontWeight": "normal", "color": "#222222", "font": "Liberation Sans"},
"layer": [
{
"data": {"name": "bars"},
"mark": {"type": "rule", "color": "#b8b8b8", "strokeWidth": 1},
"encoding": {
"x": {"field": "i", "type": "quantitative", "scale": {"domain": [0.6, 351.6], "nice": false, "zero": false},
"axis": {"orient": "bottom", "values": [1, 24, 48, 72, 96, 120, 144, 168, 192, 216, 240, 264, 288, 312, 336], "tickCount": 40, "labelAlign": "left", "labelBaseline": "top", "labelPadding": 1, "labelOverlap": false,
"labelExpr": "['3 Jan 2025','3 Jan 23:35','6 Jan 01:35','6 Jan 03:35','6 Jan 05:35','6 Jan 07:35','6 Jan 09:35','6 Jan 11:35','6 Jan 13:35','6 Jan 15:35','6 Jan 17:35','6 Jan 19:35','6 Jan 21:35','6 Jan 23:35','7 Jan 01:45'][round(datum.value / 24)]"}},
"y": {"field": "m", "type": "quantitative", "scale": {"domain": [-0.00041, 0.00148], "nice": false, "zero": false},
"axis": {"orient": "right", "values": [0.0014, 0, -0.00041], "tickCount": 10, "labelOverlap": false, "labelFontSize": 7.5, "labelExpr": "datum.value == 0 ? '0.00' : (datum.value < 0 ? '-0.00041' : '0.0014')"}},
"y2": {"datum": 0}
}
},
{
"data": {"name": "vlines"},
"transform": [{"filter": "datum.kind == 'day'"}],
"mark": {"type": "rule", "color": "#7CFC00", "strokeWidth": 2},
"encoding": {
"x": {"field": "i", "type": "quantitative", "scale": {"domain": [0.6, 351.6], "nice": false, "zero": false}}
}
},
{
"data": {"name": "vlines"},
"transform": [{"filter": "datum.kind == 'session'"}],
"mark": {"type": "rule", "color": "#86e34a", "strokeWidth": 1, "strokeDash": [7, 3, 2, 3]},
"encoding": {
"x": {"field": "i", "type": "quantitative", "scale": {"domain": [0.6, 351.6], "nice": false, "zero": false}}
}
},
{
"data": {"name": "bars"},
"mark": {"type": "line", "color": "#ff2020", "strokeWidth": 1, "interpolate": "monotone"},
"encoding": {
"x": {"field": "i", "type": "quantitative", "scale": {"domain": [0.6, 351.6], "nice": false, "zero": false}},
"y": {"field": "m", "type": "quantitative", "scale": {"domain": [-0.00041, 0.00148], "nice": false, "zero": false}}
}
}
]
}
]
}
